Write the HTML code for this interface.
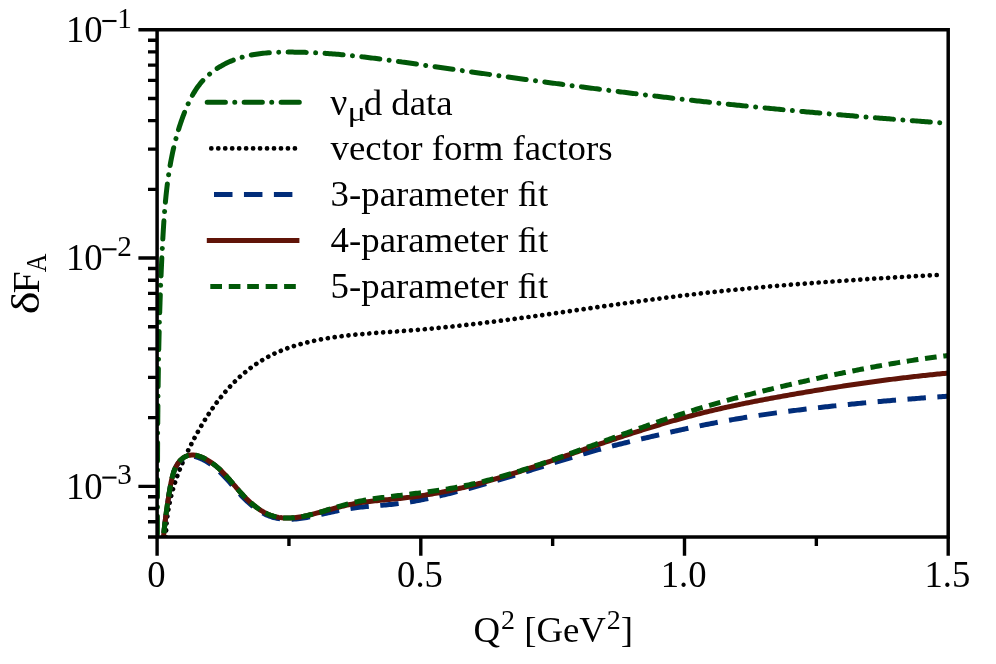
<!DOCTYPE html>
<html><head><meta charset="utf-8"><title>chart</title>
<style>
html,body{margin:0;padding:0;background:#fff;}
svg{display:block;}
text{font-family:"Liberation Serif",serif;fill:#000;}
</style></head><body>
<svg width="996" height="664" viewBox="0 0 996 664">
<rect x="0" y="0" width="996" height="664" fill="#ffffff"/>
<defs><clipPath id="ax"><rect x="157.10" y="29.75" width="791.10" height="507.25"/></clipPath></defs>

<g opacity="0.999">
<g clip-path="url(#ax)">
<path d="M157.37 539.04 L157.38 537.29 L157.38 535.53 L157.38 533.77 L157.39 532.01 L157.39 530.26 L157.39 528.50 L157.40 526.74 L157.40 524.99 L157.40 523.23 L157.40 521.48 L157.41 519.72 L157.41 517.97 L157.41 516.21 L157.42 514.46 L157.42 512.70 L157.42 510.95 L157.42 509.19 L157.43 507.44 L157.43 505.69 L157.43 503.93 L157.44 502.18 L157.44 500.43 L157.44 498.67 L157.45 496.92 L157.45 495.17 L157.45 493.41 L157.46 491.66 L157.46 489.91 L157.46 488.16 L157.47 486.41 L157.47 484.66 L157.48 482.90 L157.48 481.15 L157.48 479.40 L157.49 477.65 L157.49 475.90 L157.50 474.15 L157.50 472.40 L157.51 470.65 L157.51 468.90 L157.52 467.15 L157.52 465.40 L157.53 463.65 L157.54 461.90 L157.54 460.15 L157.55 458.40 L157.56 456.65 L157.56 454.90 L157.57 453.16 L157.58 451.41 L157.59 449.66 L157.59 447.91 L157.60 446.16 L157.61 444.41 L157.62 442.66 L157.63 440.92 L157.64 439.17 L157.65 437.42 L157.66 435.67 L157.67 433.93 L157.68 432.18 L157.69 430.43 L157.71 428.68 L157.72 426.94 L157.73 425.19 L157.74 423.44 L157.76 421.69 L157.77 419.95 L157.78 418.20 L157.80 416.45 L157.81 414.71 L157.83 412.96 L157.85 411.21 L157.86 409.47 L157.88 407.72 L157.90 405.97 L157.91 404.23 L157.93 402.48 L157.95 400.73 L157.97 398.99 L157.99 397.24 L158.01 395.50 L158.03 393.75 L158.05 392.00 L158.07 390.26 L158.10 388.51 L158.12 386.77 L158.14 385.02 L158.17 383.27 L158.19 381.53 L158.22 379.78 L158.24 378.04 L158.27 376.29 L158.29 374.54 L158.32 372.80 L158.35 371.05 L158.38 369.31 L158.41 367.56 L158.44 365.81 L158.47 364.07 L158.50 362.32 L158.53 360.58 L158.56 358.83 L158.60 357.08 L158.63 355.34 L158.67 353.59 L158.70 351.85 L158.74 350.10 L158.77 348.35 L158.81 346.61 L158.85 344.86 L158.89 343.12 L158.93 341.37 L158.97 339.62 L159.01 337.88 L159.05 336.13 L159.09 334.38 L159.14 332.64 L159.18 330.89 L159.23 329.14 L159.27 327.40 L159.32 325.65 L159.37 323.90 L159.42 322.16 L159.47 320.41 L159.52 318.66 L159.57 316.92 L159.62 315.17 L159.67 313.42 L159.72 311.68 L159.78 309.93 L159.83 308.18 L159.89 306.43 L159.95 304.69 L160.01 302.94 L160.06 301.19 L160.12 299.44 L160.19 297.69 L160.25 295.95 L160.31 294.20 L160.37 292.45 L160.44 290.70 L160.50 288.95 L160.57 287.20 L160.64 285.45 L160.71 283.71 L160.78 281.96 L160.85 280.21 L160.92 278.46 L160.99 276.71 L161.06 274.96 L161.14 273.21 L161.22 271.46 L161.29 269.71 L161.37 267.96 L161.45 266.21 L161.53 264.46 L161.61 262.71 L161.69 260.96 L161.78 259.21 L161.86 257.45 L161.95 255.70 L162.03 253.95 L162.12 252.20 L162.21 250.45 L162.30 248.70 L162.39 246.94 L162.48 245.19 L162.58 243.44 L162.67 241.69 L162.77 239.93 L162.86 238.18 L162.96 236.43 L163.06 234.67 L163.16 232.92 L163.27 231.17 L163.37 229.41 L163.48 227.66 L163.59 225.91 L163.70 224.15 L163.82 222.40 L163.93 220.65 L164.06 218.90 L164.18 217.14 L164.31 215.39 L164.44 213.64 L164.57 211.89 L164.71 210.14 L164.85 208.39 L165.00 206.64 L165.15 204.90 L165.30 203.15 L165.46 201.40 L165.63 199.66 L165.80 197.91 L165.97 196.17 L166.15 194.43 L166.34 192.68 L166.53 190.94 L166.73 189.20 L166.93 187.47 L167.14 185.73 L167.35 183.99 L167.58 182.26 L167.80 180.53 L168.04 178.80 L168.28 177.07 L168.53 175.34 L168.79 173.61 L169.05 171.89 L169.33 170.16 L169.61 168.44 L169.89 166.72 L170.19 165.00 L170.49 163.28 L170.81 161.57 L171.13 159.86 L171.46 158.15 L171.80 156.44 L172.15 154.73 L172.50 153.03 L172.87 151.33 L173.25 149.63 L173.64 147.93 L174.03 146.23 L174.44 144.54 L174.86 142.85 L175.28 141.16 L175.72 139.48 L176.17 137.80 L176.63 136.12 L177.10 134.44 L177.59 132.76 L178.08 131.09 L178.59 129.42 L179.10 127.76 L179.63 126.09 L180.18 124.43 L180.73 122.78 L181.30 121.12 L181.88 119.47 L182.47 117.82 L183.07 116.18 L183.69 114.54 L184.32 112.90 L184.97 111.26 L185.63 109.63 L186.30 108.01 L187.00 106.39 L187.71 104.78 L188.44 103.18 L189.18 101.60 L189.95 100.02 L190.74 98.45 L191.56 96.90 L192.40 95.37 L193.26 93.85 L194.15 92.35 L195.06 90.87 L196.01 89.41 L196.98 87.97 L197.98 86.55 L199.02 85.16 L200.08 83.79 L201.18 82.44 L202.31 81.13 L203.48 79.84 L204.69 78.58 L205.92 77.35 L207.19 76.15 L208.50 74.98 L209.83 73.85 L211.19 72.74 L212.58 71.66 L214.00 70.61 L215.44 69.59 L216.90 68.60 L218.39 67.65 L219.89 66.72 L221.42 65.83 L222.97 64.97 L224.53 64.14 L226.11 63.34 L227.70 62.57 L229.31 61.84 L230.92 61.14 L232.55 60.47 L234.19 59.83 L235.83 59.23 L237.48 58.66 L239.14 58.12 L240.81 57.60 L242.49 57.12 L244.17 56.67 L245.85 56.24 L247.55 55.84 L249.25 55.47 L250.95 55.12 L252.66 54.80 L254.38 54.49 L256.10 54.22 L257.82 53.96 L259.55 53.72 L261.28 53.51 L263.02 53.31 L264.76 53.13 L266.50 52.97 L268.24 52.83 L269.99 52.70 L271.74 52.59 L273.49 52.49 L275.24 52.41 L277.00 52.33 L278.75 52.27 L280.51 52.22 L282.27 52.18 L284.02 52.15 L285.78 52.13 L287.53 52.12 L289.29 52.11 L291.04 52.11 L292.80 52.11 L294.55 52.13 L296.30 52.15 L298.06 52.17 L299.81 52.20 L301.56 52.24 L303.31 52.29 L305.06 52.34 L306.81 52.40 L308.56 52.46 L310.30 52.53 L312.05 52.60 L313.80 52.69 L315.55 52.77 L317.29 52.86 L319.04 52.96 L320.78 53.06 L322.53 53.17 L324.27 53.28 L326.02 53.40 L327.76 53.52 L329.50 53.65 L331.25 53.78 L332.99 53.92 L334.73 54.06 L336.47 54.21 L338.21 54.36 L339.96 54.51 L341.70 54.67 L343.44 54.83 L345.18 55.00 L346.91 55.17 L348.65 55.34 L350.39 55.52 L352.13 55.70 L353.87 55.89 L355.61 56.07 L357.34 56.27 L359.08 56.46 L360.82 56.66 L362.56 56.86 L364.29 57.06 L366.03 57.27 L367.76 57.48 L369.50 57.69 L371.23 57.91 L372.97 58.12 L374.70 58.34 L376.44 58.56 L378.17 58.79 L379.91 59.01 L381.64 59.24 L383.38 59.47 L385.11 59.70 L386.84 59.94 L388.58 60.17 L390.31 60.41 L392.04 60.65 L393.78 60.88 L395.51 61.12 L397.24 61.37 L398.98 61.61 L400.71 61.85 L402.44 62.10 L404.18 62.34 L405.91 62.59 L407.64 62.83 L409.37 63.08 L411.11 63.33 L412.84 63.57 L414.57 63.82 L416.30 64.07 L418.03 64.32 L419.77 64.56 L421.50 64.81 L423.23 65.06 L424.96 65.31 L426.70 65.55 L428.43 65.80 L430.16 66.05 L431.89 66.30 L433.63 66.54 L435.36 66.79 L437.09 67.04 L438.82 67.28 L440.56 67.53 L442.29 67.78 L444.02 68.02 L445.75 68.27 L447.49 68.51 L449.22 68.76 L450.95 69.01 L452.68 69.25 L454.42 69.50 L456.15 69.74 L457.88 69.99 L459.61 70.23 L461.35 70.48 L463.08 70.72 L464.81 70.97 L466.54 71.21 L468.28 71.46 L470.01 71.70 L471.74 71.94 L473.47 72.19 L475.21 72.43 L476.94 72.68 L478.67 72.92 L480.40 73.16 L482.14 73.40 L483.87 73.65 L485.60 73.89 L487.33 74.13 L489.07 74.37 L490.80 74.62 L492.53 74.86 L494.27 75.10 L496.00 75.34 L497.73 75.58 L499.46 75.82 L501.20 76.06 L502.93 76.30 L504.66 76.54 L506.40 76.78 L508.13 77.02 L509.86 77.26 L511.60 77.50 L513.33 77.74 L515.06 77.98 L516.79 78.22 L518.53 78.46 L520.26 78.69 L521.99 78.93 L523.73 79.17 L525.46 79.41 L527.19 79.64 L528.93 79.88 L530.66 80.12 L532.39 80.35 L534.13 80.59 L535.86 80.82 L537.59 81.06 L539.33 81.29 L541.06 81.53 L542.80 81.76 L544.53 81.99 L546.26 82.23 L548.00 82.46 L549.73 82.69 L551.46 82.93 L553.20 83.16 L554.93 83.39 L556.67 83.62 L558.40 83.85 L560.13 84.08 L561.87 84.31 L563.60 84.54 L565.34 84.77 L567.07 85.00 L568.80 85.23 L570.54 85.46 L572.27 85.69 L574.01 85.91 L575.74 86.14 L577.48 86.37 L579.21 86.60 L580.94 86.82 L582.68 87.05 L584.41 87.27 L586.15 87.50 L587.88 87.72 L589.62 87.95 L591.35 88.17 L593.09 88.39 L594.82 88.62 L596.56 88.84 L598.29 89.06 L600.03 89.28 L601.76 89.50 L603.50 89.73 L605.23 89.95 L606.97 90.17 L608.70 90.38 L610.44 90.60 L612.17 90.82 L613.91 91.04 L615.65 91.26 L617.38 91.48 L619.12 91.69 L620.85 91.91 L622.59 92.12 L624.32 92.34 L626.06 92.55 L627.80 92.77 L629.53 92.98 L631.27 93.20 L633.00 93.41 L634.74 93.62 L636.48 93.83 L638.21 94.04 L639.95 94.25 L641.69 94.46 L643.42 94.67 L645.16 94.88 L646.90 95.09 L648.63 95.30 L650.37 95.51 L652.11 95.71 L653.84 95.92 L655.58 96.13 L657.32 96.33 L659.05 96.54 L660.79 96.74 L662.53 96.95 L664.27 97.15 L666.00 97.35 L667.74 97.55 L669.48 97.76 L671.22 97.96 L672.95 98.16 L674.69 98.36 L676.43 98.56 L678.17 98.75 L679.91 98.95 L681.64 99.15 L683.38 99.35 L685.12 99.54 L686.86 99.74 L688.60 99.93 L690.34 100.13 L692.07 100.32 L693.81 100.51 L695.55 100.71 L697.29 100.90 L699.03 101.09 L700.77 101.28 L702.51 101.47 L704.25 101.66 L705.99 101.85 L707.72 102.04 L709.46 102.23 L711.20 102.41 L712.94 102.60 L714.68 102.79 L716.42 102.97 L718.16 103.16 L719.90 103.34 L721.64 103.53 L723.38 103.71 L725.12 103.89 L726.86 104.08 L728.60 104.26 L730.34 104.44 L732.08 104.62 L733.82 104.80 L735.56 104.98 L737.30 105.16 L739.04 105.34 L740.78 105.51 L742.52 105.69 L744.26 105.87 L746.00 106.05 L747.74 106.22 L749.48 106.40 L751.23 106.57 L752.97 106.75 L754.71 106.92 L756.45 107.09 L758.19 107.26 L759.93 107.44 L761.67 107.61 L763.41 107.78 L765.15 107.95 L766.89 108.12 L768.64 108.29 L770.38 108.46 L772.12 108.63 L773.86 108.79 L775.60 108.96 L777.34 109.13 L779.09 109.30 L780.83 109.46 L782.57 109.63 L784.31 109.79 L786.05 109.96 L787.79 110.12 L789.54 110.28 L791.28 110.45 L793.02 110.61 L794.76 110.77 L796.50 110.93 L798.25 111.09 L799.99 111.25 L801.73 111.41 L803.47 111.57 L805.22 111.73 L806.96 111.89 L808.70 112.05 L810.44 112.21 L812.19 112.36 L813.93 112.52 L815.67 112.68 L817.41 112.83 L819.16 112.99 L820.90 113.14 L822.64 113.30 L824.38 113.45 L826.13 113.60 L827.87 113.76 L829.61 113.91 L831.36 114.06 L833.10 114.21 L834.84 114.37 L836.58 114.52 L838.33 114.67 L840.07 114.82 L841.81 114.97 L843.56 115.12 L845.30 115.26 L847.04 115.41 L848.79 115.56 L850.53 115.71 L852.27 115.85 L854.02 116.00 L855.76 116.15 L857.50 116.29 L859.25 116.44 L860.99 116.58 L862.73 116.73 L864.48 116.87 L866.22 117.01 L867.97 117.16 L869.71 117.30 L871.45 117.44 L873.20 117.58 L874.94 117.72 L876.68 117.87 L878.43 118.01 L880.17 118.15 L881.91 118.29 L883.66 118.43 L885.40 118.56 L887.15 118.70 L888.89 118.84 L890.63 118.98 L892.38 119.12 L894.12 119.25 L895.87 119.39 L897.61 119.53 L899.35 119.66 L901.10 119.80 L902.84 119.93 L904.59 120.07 L906.33 120.20 L908.07 120.34 L909.82 120.47 L911.56 120.60 L913.31 120.74 L915.05 120.87 L916.79 121.00 L918.54 121.13 L920.28 121.27 L922.03 121.40 L923.77 121.53 L925.52 121.66 L927.26 121.79 L929.00 121.92 L930.75 122.05 L932.49 122.18 L934.24 122.30 L935.98 122.43 L937.73 122.56 L939.47 122.69 L941.21 122.82 L942.96 122.94 L944.70 123.07 L946.45 123.20 L948.19 123.32" fill="none" stroke="#005808" stroke-width="5.00" stroke-linecap="round" stroke-linejoin="round" stroke-dasharray="18.20 9.37 0.01 9.37" stroke-dashoffset="32.45"/>
<path d="M165.95 539.16 L165.95 537.33 L165.97 535.50 L166.01 533.67 L166.07 531.85 L166.15 530.03 L166.25 528.21 L166.37 526.40 L166.50 524.60 L166.66 522.79 L166.83 521.00 L167.02 519.20 L167.23 517.41 L167.46 515.63 L167.70 513.85 L167.96 512.08 L168.24 510.31 L168.54 508.54 L168.85 506.78 L169.19 505.02 L169.53 503.27 L169.90 501.53 L170.28 499.79 L170.68 498.05 L171.09 496.32 L171.52 494.60 L171.97 492.88 L172.43 491.16 L172.91 489.45 L173.40 487.75 L173.91 486.05 L174.44 484.36 L174.97 482.67 L175.53 480.99 L176.10 479.31 L176.68 477.64 L177.27 475.97 L177.88 474.31 L178.51 472.65 L179.14 471.00 L179.79 469.35 L180.45 467.70 L181.12 466.06 L181.81 464.42 L182.50 462.78 L183.21 461.15 L183.93 459.52 L184.66 457.90 L185.40 456.27 L186.15 454.66 L186.91 453.04 L187.68 451.43 L188.46 449.81 L189.25 448.21 L190.05 446.60 L190.86 445.00 L191.67 443.39 L192.49 441.79 L193.33 440.20 L194.17 438.60 L195.02 437.01 L195.88 435.42 L196.74 433.84 L197.62 432.26 L198.51 430.68 L199.40 429.11 L200.30 427.54 L201.22 425.98 L202.14 424.42 L203.07 422.87 L204.02 421.32 L204.97 419.79 L205.93 418.25 L206.90 416.73 L207.89 415.21 L208.88 413.70 L209.88 412.20 L210.90 410.70 L211.92 409.21 L212.95 407.73 L214.00 406.26 L215.06 404.80 L216.12 403.35 L217.20 401.91 L218.29 400.48 L219.39 399.06 L220.50 397.65 L221.63 396.25 L222.76 394.86 L223.91 393.49 L225.07 392.12 L226.24 390.77 L227.42 389.43 L228.61 388.10 L229.82 386.78 L231.04 385.48 L232.27 384.19 L233.51 382.92 L234.77 381.66 L236.04 380.41 L237.32 379.18 L238.61 377.97 L239.92 376.76 L241.24 375.58 L242.58 374.41 L243.92 373.26 L245.28 372.12 L246.66 371.00 L248.04 369.90 L249.44 368.81 L250.86 367.74 L252.29 366.69 L253.73 365.66 L255.18 364.64 L256.66 363.65 L258.14 362.67 L259.64 361.71 L261.15 360.78 L262.68 359.86 L264.21 358.96 L265.76 358.08 L267.33 357.22 L268.90 356.38 L270.49 355.56 L272.08 354.75 L273.69 353.97 L275.31 353.21 L276.94 352.47 L278.57 351.75 L280.22 351.05 L281.88 350.37 L283.54 349.71 L285.22 349.07 L286.90 348.45 L288.59 347.84 L290.28 347.26 L291.99 346.69 L293.69 346.14 L295.41 345.61 L297.13 345.09 L298.85 344.59 L300.58 344.11 L302.31 343.64 L304.05 343.18 L305.78 342.74 L307.52 342.31 L309.27 341.89 L311.01 341.49 L312.76 341.10 L314.51 340.72 L316.26 340.35 L318.01 340.00 L319.76 339.65 L321.52 339.32 L323.28 339.00 L325.04 338.69 L326.80 338.39 L328.56 338.09 L330.32 337.81 L332.09 337.54 L333.86 337.28 L335.63 337.02 L337.40 336.77 L339.17 336.54 L340.94 336.31 L342.71 336.08 L344.49 335.87 L346.26 335.66 L348.04 335.46 L349.82 335.26 L351.60 335.07 L353.38 334.89 L355.16 334.71 L356.94 334.54 L358.73 334.37 L360.51 334.21 L362.29 334.05 L364.08 333.90 L365.86 333.75 L367.65 333.60 L369.44 333.46 L371.22 333.32 L373.01 333.18 L374.80 333.05 L376.59 332.91 L378.38 332.78 L380.17 332.66 L381.96 332.53 L383.75 332.40 L385.54 332.28 L387.33 332.15 L389.12 332.03 L390.91 331.90 L392.70 331.78 L394.49 331.65 L396.28 331.52 L398.07 331.40 L399.86 331.27 L401.64 331.13 L403.43 331.00 L405.22 330.87 L407.01 330.73 L408.80 330.59 L410.59 330.44 L412.37 330.30 L414.16 330.15 L415.95 330.00 L417.73 329.85 L419.52 329.70 L421.30 329.54 L423.09 329.38 L424.87 329.22 L426.66 329.06 L428.44 328.89 L430.23 328.73 L432.01 328.56 L433.79 328.39 L435.58 328.21 L437.36 328.04 L439.14 327.86 L440.92 327.68 L442.71 327.50 L444.49 327.32 L446.27 327.14 L448.05 326.95 L449.83 326.76 L451.61 326.57 L453.39 326.38 L455.17 326.19 L456.95 325.99 L458.73 325.80 L460.51 325.60 L462.29 325.40 L464.07 325.20 L465.85 324.99 L467.63 324.79 L469.40 324.58 L471.18 324.38 L472.96 324.17 L474.74 323.96 L476.52 323.74 L478.29 323.53 L480.07 323.31 L481.85 323.10 L483.62 322.88 L485.40 322.66 L487.17 322.44 L488.95 322.22 L490.73 322.00 L492.50 321.77 L494.28 321.55 L496.05 321.32 L497.83 321.09 L499.60 320.86 L501.38 320.63 L503.15 320.40 L504.93 320.17 L506.70 319.94 L508.47 319.70 L510.25 319.47 L512.02 319.23 L513.80 318.99 L515.57 318.76 L517.34 318.52 L519.12 318.28 L520.89 318.04 L522.66 317.80 L524.44 317.55 L526.21 317.31 L527.98 317.07 L529.75 316.82 L531.53 316.58 L533.30 316.33 L535.07 316.08 L536.84 315.84 L538.61 315.59 L540.39 315.34 L542.16 315.09 L543.93 314.84 L545.70 314.59 L547.47 314.34 L549.25 314.09 L551.02 313.84 L552.79 313.59 L554.56 313.33 L556.33 313.08 L558.10 312.83 L559.87 312.58 L561.64 312.32 L563.42 312.07 L565.19 311.81 L566.96 311.56 L568.73 311.30 L570.50 311.05 L572.27 310.79 L574.04 310.54 L575.81 310.28 L577.58 310.03 L579.36 309.77 L581.13 309.52 L582.90 309.26 L584.67 309.01 L586.44 308.75 L588.21 308.50 L589.98 308.24 L591.75 307.98 L593.52 307.73 L595.29 307.47 L597.06 307.22 L598.84 306.96 L600.61 306.71 L602.38 306.46 L604.15 306.20 L605.92 305.95 L607.69 305.70 L609.46 305.44 L611.23 305.19 L613.01 304.94 L614.78 304.69 L616.55 304.43 L618.32 304.18 L620.09 303.93 L621.86 303.68 L623.64 303.43 L625.41 303.19 L627.18 302.94 L628.95 302.69 L630.72 302.44 L632.50 302.20 L634.27 301.95 L636.04 301.70 L637.81 301.46 L639.59 301.22 L641.36 300.97 L643.13 300.73 L644.90 300.49 L646.68 300.25 L648.45 300.01 L650.22 299.77 L652.00 299.53 L653.77 299.30 L655.55 299.06 L657.32 298.83 L659.09 298.59 L660.87 298.36 L662.64 298.13 L664.42 297.90 L666.19 297.67 L667.97 297.44 L669.74 297.21 L671.52 296.99 L673.29 296.76 L675.07 296.54 L676.84 296.32 L678.62 296.09 L680.39 295.87 L682.17 295.66 L683.95 295.44 L685.72 295.22 L687.50 295.01 L689.28 294.79 L691.06 294.58 L692.83 294.37 L694.61 294.16 L696.39 293.96 L698.17 293.75 L699.94 293.54 L701.72 293.34 L703.50 293.14 L705.28 292.94 L707.06 292.74 L708.84 292.54 L710.62 292.34 L712.40 292.15 L714.18 291.95 L715.96 291.76 L717.74 291.57 L719.52 291.38 L721.30 291.19 L723.08 291.00 L724.86 290.81 L726.64 290.63 L728.42 290.44 L730.20 290.26 L731.98 290.08 L733.76 289.90 L735.55 289.72 L737.33 289.54 L739.11 289.36 L740.89 289.18 L742.67 289.01 L744.46 288.84 L746.24 288.66 L748.02 288.49 L749.80 288.32 L751.59 288.15 L753.37 287.98 L755.15 287.82 L756.94 287.65 L758.72 287.49 L760.50 287.32 L762.29 287.16 L764.07 287.00 L765.85 286.84 L767.64 286.68 L769.42 286.52 L771.21 286.36 L772.99 286.20 L774.77 286.05 L776.56 285.89 L778.34 285.74 L780.13 285.59 L781.91 285.43 L783.70 285.28 L785.48 285.13 L787.27 284.98 L789.05 284.84 L790.84 284.69 L792.62 284.54 L794.41 284.40 L796.19 284.25 L797.98 284.11 L799.76 283.97 L801.55 283.83 L803.33 283.69 L805.12 283.55 L806.91 283.41 L808.69 283.27 L810.48 283.13 L812.26 282.99 L814.05 282.86 L815.83 282.72 L817.62 282.59 L819.41 282.46 L821.19 282.32 L822.98 282.19 L824.76 282.06 L826.55 281.93 L828.34 281.80 L830.12 281.67 L831.91 281.54 L833.70 281.42 L835.48 281.29 L837.27 281.16 L839.05 281.04 L840.84 280.91 L842.63 280.79 L844.41 280.67 L846.20 280.54 L847.99 280.42 L849.77 280.30 L851.56 280.18 L853.35 280.06 L855.13 279.94 L856.92 279.82 L858.71 279.70 L860.49 279.59 L862.28 279.47 L864.06 279.35 L865.85 279.24 L867.64 279.12 L869.42 279.01 L871.21 278.89 L873.00 278.78 L874.78 278.67 L876.57 278.56 L878.35 278.44 L880.14 278.33 L881.93 278.22 L883.71 278.11 L885.50 278.00 L887.28 277.89 L889.07 277.78 L890.86 277.67 L892.64 277.57 L894.43 277.46 L896.21 277.35 L898.00 277.25 L899.79 277.14 L901.57 277.03 L903.36 276.93 L905.14 276.82 L906.93 276.72 L908.71 276.61 L910.50 276.51 L912.28 276.41 L914.07 276.30 L915.85 276.20 L917.64 276.10 L919.42 275.99 L921.21 275.89 L922.99 275.79 L924.78 275.69 L926.56 275.59 L928.35 275.49 L930.13 275.39 L931.92 275.29 L933.70 275.19 L935.48 275.09 L937.27 274.99" fill="none" stroke="#000" stroke-width="4.70" stroke-linecap="round" stroke-linejoin="round" stroke-dasharray="0.01 6.95" stroke-dashoffset="5.06"/>
<path d="M163.30 539.08 L163.47 537.18 L163.65 535.31 L163.83 533.45 L164.01 531.62 L164.20 529.80 L164.39 528.00 L164.59 526.21 L164.79 524.44 L164.99 522.68 L165.20 520.93 L165.41 519.19 L165.62 517.46 L165.84 515.74 L166.07 514.02 L166.30 512.30 L166.54 510.59 L166.78 508.87 L167.02 507.16 L167.27 505.44 L167.53 503.72 L167.79 502.00 L168.06 500.27 L168.33 498.53 L168.61 496.78 L168.90 495.02 L169.19 493.25 L169.49 491.46 L169.79 489.66 L170.10 487.84 L170.42 486.00 L170.75 484.16 L171.10 482.30 L171.48 480.45 L171.89 478.61 L172.33 476.77 L172.81 474.96 L173.35 473.17 L173.94 471.42 L174.59 469.70 L175.31 468.03 L176.10 466.64 L176.97 465.12 L177.92 463.68 L178.96 462.32 L180.08 461.06 L181.29 459.92 L182.58 458.91 L183.95 458.05 L185.40 457.35 L186.92 456.80 L188.49 456.43 L190.10 456.22 L191.76 456.19 L193.44 456.33 L195.15 456.63 L196.86 457.07 L198.59 457.64 L200.32 458.32 L202.03 459.11 L203.74 459.98 L205.42 460.92 L207.07 461.91 L208.68 462.96 L210.25 464.03 L211.77 465.13 L213.25 466.25 L214.69 467.39 L216.09 468.56 L217.46 469.74 L218.80 470.94 L220.10 472.16 L221.38 473.40 L222.64 474.66 L223.87 475.92 L225.08 477.20 L226.28 478.50 L227.46 479.80 L228.63 481.11 L229.79 482.43 L230.95 483.75 L232.10 485.08 L233.25 486.41 L234.40 487.75 L235.55 489.08 L236.71 490.41 L237.88 491.74 L239.06 493.06 L240.25 494.37 L241.46 495.68 L242.69 496.98 L243.94 498.26 L245.21 499.53 L246.51 500.79 L247.84 502.02 L249.19 503.24 L250.56 504.43 L251.96 505.60 L253.37 506.73 L254.82 507.83 L256.28 508.90 L257.76 509.93 L259.26 510.91 L260.78 511.86 L262.32 512.75 L263.88 513.60 L265.46 514.39 L267.05 515.13 L268.66 515.81 L270.28 516.43 L271.92 516.99 L273.57 517.48 L275.24 517.91 L276.92 518.28 L278.61 518.59 L280.31 518.84 L282.02 519.04 L283.74 519.18 L285.48 519.28 L287.21 519.33 L288.96 519.33 L290.72 519.30 L292.48 519.22 L294.25 519.11 L296.02 518.96 L297.79 518.77 L299.57 518.56 L301.36 518.32 L303.14 518.05 L304.93 517.76 L306.72 517.45 L308.51 517.12 L310.29 516.77 L312.08 516.40 L313.87 516.03 L315.65 515.64 L317.43 515.25 L319.20 514.85 L320.97 514.44 L322.74 514.04 L324.50 513.63 L326.25 513.23 L327.99 512.84 L329.73 512.45 L331.47 512.06 L333.19 511.69 L334.92 511.32 L336.64 510.96 L338.35 510.61 L340.07 510.27 L341.78 509.94 L343.50 509.62 L345.21 509.31 L346.93 509.01 L348.64 508.72 L350.36 508.45 L352.09 508.19 L353.82 507.94 L355.55 507.71 L357.29 507.49 L359.04 507.28 L360.79 507.09 L362.55 506.90 L364.31 506.73 L366.08 506.56 L367.85 506.40 L369.62 506.24 L371.40 506.09 L373.18 505.95 L374.96 505.80 L376.75 505.66 L378.54 505.52 L380.33 505.37 L382.12 505.23 L383.92 505.08 L385.71 504.92 L387.51 504.76 L389.31 504.59 L391.10 504.42 L392.90 504.23 L394.69 504.04 L396.49 503.83 L398.28 503.62 L400.08 503.39 L401.87 503.15 L403.66 502.90 L405.45 502.64 L407.23 502.37 L409.02 502.09 L410.80 501.80 L412.58 501.49 L414.36 501.18 L416.14 500.86 L417.92 500.53 L419.70 500.19 L421.47 499.84 L423.24 499.49 L425.01 499.13 L426.78 498.76 L428.55 498.38 L430.32 498.00 L432.08 497.61 L433.84 497.22 L435.61 496.82 L437.37 496.41 L439.12 496.00 L440.88 495.59 L442.64 495.17 L444.39 494.75 L446.14 494.32 L447.90 493.89 L449.65 493.46 L451.39 493.02 L453.14 492.59 L454.89 492.14 L456.63 491.70 L458.37 491.25 L460.12 490.80 L461.86 490.35 L463.59 489.89 L465.33 489.43 L467.07 488.96 L468.80 488.50 L470.53 488.03 L472.27 487.56 L474.00 487.08 L475.73 486.61 L477.46 486.13 L479.18 485.64 L480.91 485.16 L482.63 484.67 L484.36 484.18 L486.08 483.69 L487.80 483.19 L489.52 482.70 L491.24 482.20 L492.96 481.70 L494.68 481.19 L496.39 480.69 L498.11 480.18 L499.82 479.67 L501.54 479.16 L503.25 478.65 L504.96 478.13 L506.67 477.62 L508.38 477.10 L510.09 476.58 L511.80 476.06 L513.51 475.54 L515.21 475.01 L516.92 474.49 L518.62 473.96 L520.33 473.44 L522.03 472.91 L523.73 472.38 L525.44 471.85 L527.14 471.32 L528.84 470.78 L530.54 470.25 L532.24 469.72 L533.94 469.18 L535.64 468.65 L537.34 468.11 L539.04 467.58 L540.73 467.04 L542.43 466.50 L544.13 465.97 L545.82 465.43 L547.52 464.89 L549.22 464.36 L550.91 463.82 L552.61 463.29 L554.30 462.76 L556.00 462.22 L557.69 461.69 L559.38 461.16 L561.08 460.64 L562.77 460.11 L564.46 459.58 L566.16 459.06 L567.85 458.54 L569.54 458.02 L571.24 457.51 L572.93 456.99 L574.62 456.48 L576.31 455.97 L578.01 455.47 L579.70 454.96 L581.39 454.46 L583.08 453.97 L584.78 453.48 L586.47 452.99 L588.16 452.50 L589.86 452.02 L591.55 451.55 L593.24 451.07 L594.94 450.60 L596.63 450.14 L598.32 449.68 L600.02 449.22 L601.71 448.76 L603.41 448.31 L605.10 447.87 L606.80 447.42 L608.49 446.98 L610.19 446.54 L611.89 446.11 L613.58 445.68 L615.28 445.25 L616.98 444.82 L618.67 444.40 L620.37 443.97 L622.07 443.56 L623.77 443.14 L625.47 442.72 L627.17 442.31 L628.87 441.90 L630.57 441.49 L632.27 441.08 L633.98 440.67 L635.68 440.27 L637.38 439.86 L639.09 439.46 L640.79 439.06 L642.50 438.66 L644.20 438.25 L645.91 437.86 L647.62 437.46 L649.32 437.06 L651.03 436.66 L652.74 436.26 L654.45 435.86 L656.16 435.47 L657.88 435.07 L659.59 434.68 L661.30 434.28 L663.02 433.89 L664.73 433.49 L666.45 433.10 L668.17 432.71 L669.88 432.32 L671.60 431.93 L673.32 431.54 L675.04 431.16 L676.76 430.77 L678.49 430.39 L680.21 430.01 L681.94 429.63 L683.66 429.25 L685.39 428.88 L687.12 428.50 L688.85 428.13 L690.58 427.76 L692.31 427.39 L694.04 427.03 L695.77 426.67 L697.51 426.31 L699.25 425.95 L700.98 425.59 L702.72 425.24 L704.46 424.89 L706.20 424.54 L707.94 424.20 L709.69 423.86 L711.43 423.52 L713.18 423.18 L714.92 422.85 L716.67 422.52 L718.41 422.19 L720.16 421.86 L721.91 421.54 L723.66 421.22 L725.41 420.90 L727.16 420.59 L728.91 420.27 L730.67 419.96 L732.42 419.66 L734.17 419.36 L735.92 419.05 L737.68 418.76 L739.43 418.46 L741.19 418.17 L742.94 417.88 L744.69 417.59 L746.45 417.31 L748.20 417.03 L749.96 416.75 L751.71 416.48 L753.47 416.20 L755.22 415.93 L756.98 415.67 L758.73 415.40 L760.49 415.14 L762.25 414.88 L764.00 414.62 L765.76 414.37 L767.52 414.12 L769.27 413.87 L771.03 413.62 L772.79 413.38 L774.55 413.14 L776.30 412.89 L778.06 412.66 L779.82 412.42 L781.58 412.18 L783.34 411.95 L785.10 411.72 L786.86 411.49 L788.62 411.26 L790.38 411.03 L792.15 410.81 L793.91 410.58 L795.67 410.36 L797.43 410.14 L799.20 409.92 L800.96 409.71 L802.72 409.49 L804.49 409.28 L806.25 409.06 L808.01 408.85 L809.78 408.64 L811.54 408.44 L813.31 408.23 L815.08 408.03 L816.84 407.82 L818.61 407.62 L820.38 407.42 L822.14 407.22 L823.91 407.03 L825.68 406.83 L827.45 406.64 L829.21 406.44 L830.98 406.25 L832.75 406.06 L834.52 405.87 L836.29 405.69 L838.06 405.50 L839.83 405.32 L841.60 405.13 L843.37 404.95 L845.14 404.77 L846.91 404.59 L848.68 404.41 L850.45 404.24 L852.23 404.06 L854.00 403.89 L855.77 403.71 L857.54 403.54 L859.32 403.37 L861.09 403.20 L862.86 403.04 L864.64 402.87 L866.41 402.70 L868.18 402.54 L869.96 402.38 L871.73 402.21 L873.51 402.05 L875.28 401.89 L877.06 401.74 L878.83 401.58 L880.61 401.42 L882.38 401.27 L884.16 401.11 L885.94 400.96 L887.71 400.81 L889.49 400.66 L891.27 400.51 L893.04 400.36 L894.82 400.21 L896.60 400.07 L898.38 399.92 L900.15 399.78 L901.93 399.63 L903.71 399.49 L905.49 399.35 L907.27 399.21 L909.05 399.07 L910.83 398.93 L912.60 398.79 L914.38 398.65 L916.16 398.52 L917.94 398.38 L919.72 398.25 L921.50 398.11 L923.28 397.98 L925.06 397.85 L926.84 397.72 L928.62 397.59 L930.40 397.46 L932.18 397.33 L933.97 397.20 L935.75 397.07 L937.53 396.95 L939.31 396.82 L941.09 396.70 L942.87 396.57 L944.65 396.45 L946.43 396.33 L948.22 396.20 L950.00 396.08" fill="none" stroke="#002d7a" stroke-width="5.00" stroke-linecap="butt" stroke-linejoin="round" stroke-dasharray="18.45 11.51" stroke-dashoffset="23.53"/>
<path d="M163.30 539.08 L163.47 537.18 L163.65 535.31 L163.83 533.45 L164.01 531.62 L164.20 529.80 L164.39 528.00 L164.59 526.21 L164.79 524.44 L164.99 522.68 L165.20 520.93 L165.41 519.19 L165.62 517.46 L165.84 515.74 L166.07 514.02 L166.30 512.30 L166.54 510.59 L166.78 508.87 L167.02 507.16 L167.27 505.44 L167.53 503.72 L167.79 502.00 L168.06 500.27 L168.33 498.53 L168.61 496.78 L168.90 495.02 L169.19 493.25 L169.49 491.46 L169.79 489.66 L170.10 487.84 L170.42 486.00 L170.75 484.16 L171.10 482.30 L171.48 480.45 L171.89 478.61 L172.33 476.77 L172.81 474.96 L173.35 473.17 L173.94 471.42 L174.59 469.70 L175.31 468.03 L176.10 466.41 L176.97 464.85 L177.92 463.35 L178.96 461.94 L180.08 460.61 L181.29 459.40 L182.58 458.31 L183.95 457.37 L185.40 456.57 L186.92 455.93 L188.49 455.45 L190.10 455.14 L191.76 455.00 L193.44 455.04 L195.15 455.22 L196.86 455.55 L198.59 456.02 L200.32 456.60 L202.03 457.28 L203.74 458.05 L205.42 458.90 L207.07 459.82 L208.68 460.79 L210.25 461.80 L211.77 462.84 L213.25 463.91 L214.69 465.01 L216.09 466.14 L217.46 467.30 L218.80 468.48 L220.10 469.69 L221.38 470.91 L222.64 472.16 L223.87 473.43 L225.08 474.71 L226.28 476.00 L227.46 477.31 L228.63 478.64 L229.79 479.97 L230.95 481.31 L232.10 482.66 L233.25 484.01 L234.40 485.37 L235.55 486.72 L236.71 488.08 L237.88 489.44 L239.06 490.79 L240.25 492.14 L241.46 493.48 L242.69 494.81 L243.94 496.14 L245.21 497.45 L246.51 498.75 L247.84 500.03 L249.19 501.29 L250.56 502.53 L251.96 503.74 L253.37 504.93 L254.82 506.08 L256.28 507.19 L257.76 508.27 L259.26 509.30 L260.78 510.29 L262.32 511.23 L263.88 512.12 L265.46 512.96 L267.05 513.74 L268.66 514.45 L270.28 515.11 L271.92 515.69 L273.57 516.21 L275.24 516.66 L276.92 517.04 L278.61 517.35 L280.31 517.60 L282.02 517.80 L283.74 517.93 L285.48 518.01 L287.21 518.04 L288.96 518.02 L290.72 517.96 L292.48 517.84 L294.25 517.69 L296.02 517.49 L297.79 517.26 L299.57 517.00 L301.36 516.70 L303.14 516.37 L304.93 516.01 L306.72 515.63 L308.51 515.23 L310.29 514.80 L312.08 514.36 L313.87 513.90 L315.65 513.43 L317.43 512.95 L319.20 512.47 L320.97 511.98 L322.74 511.48 L324.50 510.99 L326.25 510.49 L327.99 510.00 L329.73 509.52 L331.47 509.05 L333.19 508.58 L334.92 508.12 L336.64 507.66 L338.35 507.22 L340.07 506.78 L341.78 506.36 L343.50 505.95 L345.21 505.55 L346.93 505.16 L348.64 504.79 L350.36 504.42 L352.09 504.08 L353.82 503.75 L355.55 503.43 L357.29 503.13 L359.04 502.85 L360.79 502.58 L362.55 502.32 L364.31 502.08 L366.08 501.85 L367.85 501.62 L369.62 501.41 L371.40 501.21 L373.18 501.01 L374.96 500.83 L376.75 500.64 L378.54 500.47 L380.33 500.29 L382.12 500.13 L383.92 499.96 L385.71 499.79 L387.51 499.63 L389.31 499.46 L391.10 499.30 L392.90 499.13 L394.69 498.96 L396.49 498.78 L398.28 498.60 L400.08 498.42 L401.87 498.22 L403.66 498.02 L405.45 497.82 L407.23 497.60 L409.02 497.39 L410.80 497.16 L412.58 496.93 L414.36 496.69 L416.14 496.44 L417.92 496.19 L419.70 495.93 L421.47 495.67 L423.24 495.40 L425.01 495.12 L426.78 494.84 L428.55 494.55 L430.32 494.25 L432.08 493.95 L433.84 493.64 L435.61 493.32 L437.37 493.00 L439.12 492.68 L440.88 492.34 L442.64 492.00 L444.39 491.66 L446.14 491.31 L447.90 490.95 L449.65 490.58 L451.39 490.21 L453.14 489.84 L454.89 489.46 L456.63 489.07 L458.37 488.68 L460.12 488.28 L461.86 487.87 L463.59 487.46 L465.33 487.04 L467.07 486.62 L468.80 486.19 L470.53 485.76 L472.27 485.32 L474.00 484.88 L475.73 484.43 L477.46 483.98 L479.18 483.52 L480.91 483.05 L482.63 482.59 L484.36 482.11 L486.08 481.64 L487.80 481.15 L489.52 480.67 L491.24 480.18 L492.96 479.68 L494.68 479.18 L496.39 478.68 L498.11 478.17 L499.82 477.66 L501.54 477.15 L503.25 476.63 L504.96 476.10 L506.67 475.58 L508.38 475.05 L510.09 474.52 L511.80 473.98 L513.51 473.44 L515.21 472.90 L516.92 472.36 L518.62 471.81 L520.33 471.26 L522.03 470.71 L523.73 470.15 L525.44 469.59 L527.14 469.03 L528.84 468.47 L530.54 467.91 L532.24 467.34 L533.94 466.77 L535.64 466.20 L537.34 465.62 L539.04 465.05 L540.73 464.47 L542.43 463.90 L544.13 463.32 L545.82 462.74 L547.52 462.15 L549.22 461.57 L550.91 460.99 L552.61 460.40 L554.30 459.81 L556.00 459.23 L557.69 458.64 L559.38 458.05 L561.08 457.46 L562.77 456.87 L564.46 456.28 L566.16 455.69 L567.85 455.10 L569.54 454.51 L571.24 453.92 L572.93 453.33 L574.62 452.74 L576.31 452.15 L578.01 451.56 L579.70 450.97 L581.39 450.38 L583.08 449.79 L584.78 449.20 L586.47 448.62 L588.16 448.03 L589.86 447.45 L591.55 446.86 L593.24 446.28 L594.94 445.70 L596.63 445.11 L598.32 444.53 L600.02 443.96 L601.71 443.38 L603.41 442.80 L605.10 442.23 L606.80 441.65 L608.49 441.08 L610.19 440.51 L611.89 439.94 L613.58 439.37 L615.28 438.80 L616.98 438.24 L618.67 437.67 L620.37 437.11 L622.07 436.55 L623.77 435.99 L625.47 435.44 L627.17 434.88 L628.87 434.33 L630.57 433.78 L632.27 433.23 L633.98 432.68 L635.68 432.13 L637.38 431.59 L639.09 431.05 L640.79 430.51 L642.50 429.97 L644.20 429.44 L645.91 428.91 L647.62 428.38 L649.32 427.85 L651.03 427.32 L652.74 426.80 L654.45 426.28 L656.16 425.76 L657.88 425.24 L659.59 424.73 L661.30 424.22 L663.02 423.71 L664.73 423.21 L666.45 422.71 L668.17 422.21 L669.88 421.71 L671.60 421.21 L673.32 420.72 L675.04 420.24 L676.76 419.75 L678.49 419.27 L680.21 418.79 L681.94 418.31 L683.66 417.84 L685.39 417.37 L687.12 416.91 L688.85 416.44 L690.58 415.98 L692.31 415.53 L694.04 415.07 L695.77 414.62 L697.51 414.18 L699.25 413.74 L700.98 413.30 L702.72 412.86 L704.46 412.43 L706.20 412.00 L707.94 411.58 L709.69 411.15 L711.43 410.74 L713.18 410.32 L714.92 409.91 L716.67 409.50 L718.41 409.10 L720.16 408.70 L721.91 408.30 L723.66 407.90 L725.41 407.51 L727.16 407.12 L728.91 406.74 L730.67 406.36 L732.42 405.98 L734.17 405.60 L735.92 405.23 L737.68 404.85 L739.43 404.49 L741.19 404.12 L742.94 403.76 L744.69 403.40 L746.45 403.05 L748.20 402.69 L749.96 402.34 L751.71 401.99 L753.47 401.65 L755.22 401.30 L756.98 400.96 L758.73 400.62 L760.49 400.29 L762.25 399.95 L764.00 399.62 L765.76 399.29 L767.52 398.96 L769.27 398.63 L771.03 398.31 L772.79 397.98 L774.55 397.66 L776.30 397.34 L778.06 397.02 L779.82 396.70 L781.58 396.38 L783.34 396.07 L785.10 395.75 L786.86 395.44 L788.62 395.12 L790.38 394.81 L792.15 394.50 L793.91 394.19 L795.67 393.89 L797.43 393.58 L799.20 393.28 L800.96 392.97 L802.72 392.67 L804.49 392.37 L806.25 392.07 L808.01 391.77 L809.78 391.47 L811.54 391.17 L813.31 390.88 L815.08 390.59 L816.84 390.29 L818.61 390.00 L820.38 389.71 L822.14 389.43 L823.91 389.14 L825.68 388.85 L827.45 388.57 L829.21 388.29 L830.98 388.01 L832.75 387.73 L834.52 387.45 L836.29 387.17 L838.06 386.90 L839.83 386.62 L841.60 386.35 L843.37 386.08 L845.14 385.81 L846.91 385.54 L848.68 385.28 L850.45 385.01 L852.23 384.75 L854.00 384.49 L855.77 384.23 L857.54 383.97 L859.32 383.71 L861.09 383.46 L862.86 383.20 L864.64 382.95 L866.41 382.70 L868.18 382.45 L869.96 382.20 L871.73 381.96 L873.51 381.71 L875.28 381.47 L877.06 381.23 L878.83 380.99 L880.61 380.76 L882.38 380.52 L884.16 380.29 L885.94 380.05 L887.71 379.82 L889.49 379.59 L891.27 379.37 L893.04 379.14 L894.82 378.92 L896.60 378.70 L898.38 378.48 L900.15 378.26 L901.93 378.04 L903.71 377.83 L905.49 377.61 L907.27 377.40 L909.05 377.19 L910.83 376.99 L912.60 376.78 L914.38 376.58 L916.16 376.38 L917.94 376.18 L919.72 375.98 L921.50 375.78 L923.28 375.59 L925.06 375.40 L926.84 375.21 L928.62 375.02 L930.40 374.83 L932.18 374.65 L933.97 374.46 L935.75 374.28 L937.53 374.10 L939.31 373.93 L941.09 373.75 L942.87 373.58 L944.65 373.41 L946.43 373.24 L948.22 373.08 L950.00 372.91" fill="none" stroke="#601408" stroke-width="5.00" stroke-linecap="butt" stroke-linejoin="round"/>
<path d="M163.30 539.08 L163.47 537.18 L163.65 535.31 L163.83 533.45 L164.01 531.62 L164.20 529.80 L164.39 528.00 L164.59 526.21 L164.79 524.44 L164.99 522.68 L165.20 520.93 L165.41 519.19 L165.62 517.46 L165.84 515.74 L166.07 514.02 L166.30 512.30 L166.54 510.59 L166.78 508.87 L167.02 507.16 L167.27 505.44 L167.53 503.72 L167.79 502.00 L168.06 500.27 L168.33 498.53 L168.61 496.78 L168.90 495.02 L169.19 493.25 L169.49 491.46 L169.79 489.66 L170.10 487.84 L170.42 486.00 L170.75 484.16 L171.10 482.30 L171.48 480.45 L171.89 478.61 L172.33 476.77 L172.81 474.96 L173.35 473.17 L173.94 471.42 L174.59 469.70 L175.31 468.03 L176.10 466.41 L176.97 464.85 L177.92 463.35 L178.96 461.94 L180.08 460.61 L181.29 459.40 L182.58 458.31 L183.95 457.37 L185.40 456.57 L186.92 455.93 L188.49 455.45 L190.10 455.14 L191.76 455.00 L193.44 455.04 L195.15 455.22 L196.86 455.55 L198.59 456.02 L200.32 456.60 L202.03 457.28 L203.74 458.05 L205.42 458.90 L207.07 459.82 L208.68 460.79 L210.25 461.80 L211.77 462.84 L213.25 463.91 L214.69 465.01 L216.09 466.14 L217.46 467.30 L218.80 468.48 L220.10 469.69 L221.38 470.91 L222.64 472.16 L223.87 473.43 L225.08 474.71 L226.28 476.00 L227.46 477.31 L228.63 478.64 L229.79 479.97 L230.95 481.31 L232.10 482.66 L233.25 484.01 L234.40 485.37 L235.55 486.72 L236.71 488.08 L237.88 489.44 L239.06 490.79 L240.25 492.14 L241.46 493.48 L242.69 494.81 L243.94 496.14 L245.21 497.45 L246.51 498.75 L247.84 500.03 L249.19 501.29 L250.56 502.53 L251.96 503.74 L253.37 504.93 L254.82 506.08 L256.28 507.19 L257.76 508.27 L259.26 509.30 L260.78 510.29 L262.32 511.23 L263.88 512.12 L265.46 512.96 L267.05 513.74 L268.66 514.45 L270.28 515.11 L271.92 515.69 L273.57 516.21 L275.24 516.66 L276.92 517.04 L278.61 517.35 L280.31 517.60 L282.02 517.80 L283.74 517.93 L285.48 518.01 L287.21 518.04 L288.96 518.02 L290.72 517.96 L292.48 517.84 L294.25 517.69 L296.02 517.49 L297.79 517.26 L299.57 517.00 L301.36 516.70 L303.14 516.37 L304.93 516.01 L306.72 515.63 L308.51 515.23 L310.29 514.80 L312.08 514.36 L313.87 513.90 L315.65 513.43 L317.43 512.95 L319.20 512.47 L320.97 511.98 L322.74 511.48 L324.50 510.99 L326.25 510.24 L327.99 509.70 L329.73 509.16 L331.47 508.63 L333.19 508.10 L334.92 507.57 L336.64 507.05 L338.35 506.55 L340.07 506.04 L341.78 505.55 L343.50 505.07 L345.21 504.60 L346.93 504.14 L348.64 503.69 L350.36 503.26 L352.09 502.83 L353.82 502.43 L355.55 502.03 L357.29 501.66 L359.04 501.30 L360.79 500.95 L362.55 500.61 L364.31 500.29 L366.08 499.98 L367.85 499.68 L369.62 499.39 L371.40 499.11 L373.18 498.84 L374.96 498.57 L376.75 498.32 L378.54 498.07 L380.33 497.83 L382.12 497.59 L383.92 497.36 L385.71 497.13 L387.51 496.90 L389.31 496.68 L391.10 496.46 L392.90 496.25 L394.69 496.03 L396.49 495.81 L398.28 495.60 L400.08 495.38 L401.87 495.16 L403.66 494.93 L405.45 494.71 L407.23 494.49 L409.02 494.26 L410.80 494.03 L412.58 493.81 L414.36 493.58 L416.14 493.35 L417.92 493.12 L419.70 492.90 L421.47 492.67 L423.24 492.44 L425.01 492.20 L426.78 491.97 L428.55 491.73 L430.32 491.49 L432.08 491.25 L433.84 491.00 L435.61 490.75 L437.37 490.50 L439.12 490.24 L440.88 489.97 L442.64 489.70 L444.39 489.43 L446.14 489.14 L447.90 488.86 L449.65 488.56 L451.39 488.26 L453.14 487.95 L454.89 487.63 L456.63 487.31 L458.37 486.97 L460.12 486.63 L461.86 486.29 L463.59 485.93 L465.33 485.57 L467.07 485.20 L468.80 484.83 L470.53 484.44 L472.27 484.05 L474.00 483.66 L475.73 483.25 L477.46 482.84 L479.18 482.43 L480.91 482.01 L482.63 481.58 L484.36 481.14 L486.08 480.70 L487.80 480.26 L489.52 479.80 L491.24 479.34 L492.96 478.88 L494.68 478.41 L496.39 477.94 L498.11 477.46 L499.82 476.97 L501.54 476.48 L503.25 475.98 L504.96 475.48 L506.67 474.98 L508.38 474.47 L510.09 473.95 L511.80 473.43 L513.51 472.91 L515.21 472.38 L516.92 471.85 L518.62 471.31 L520.33 470.77 L522.03 470.23 L523.73 469.68 L525.44 469.13 L527.14 468.57 L528.84 468.01 L530.54 467.45 L532.24 466.89 L533.94 466.32 L535.64 465.74 L537.34 465.17 L539.04 464.59 L540.73 464.01 L542.43 463.42 L544.13 462.84 L545.82 462.25 L547.52 461.66 L549.22 461.06 L550.91 460.47 L552.61 459.87 L554.30 459.27 L556.00 458.67 L557.69 458.06 L559.38 457.45 L561.08 456.85 L562.77 456.24 L564.46 455.63 L566.16 455.01 L567.85 454.40 L569.54 453.79 L571.24 453.17 L572.93 452.55 L574.62 451.93 L576.31 451.32 L578.01 450.70 L579.70 450.08 L581.39 449.46 L583.08 448.83 L584.78 448.21 L586.47 447.59 L588.16 446.97 L589.86 446.35 L591.55 445.73 L593.24 445.10 L594.94 444.48 L596.63 443.86 L598.32 443.24 L600.02 442.62 L601.71 442.00 L603.41 441.37 L605.10 440.75 L606.80 440.13 L608.49 439.51 L610.19 438.89 L611.89 438.27 L613.58 437.65 L615.28 437.04 L616.98 436.42 L618.67 435.80 L620.37 435.19 L622.07 434.57 L623.77 433.96 L625.47 433.34 L627.17 432.73 L628.87 432.12 L630.57 431.51 L632.27 430.90 L633.98 430.29 L635.68 429.68 L637.38 429.07 L639.09 428.47 L640.79 427.86 L642.50 427.26 L644.20 426.66 L645.91 426.06 L647.62 425.46 L649.32 424.86 L651.03 424.27 L652.74 423.67 L654.45 423.08 L656.16 422.49 L657.88 421.90 L659.59 421.32 L661.30 420.73 L663.02 420.15 L664.73 419.57 L666.45 418.99 L668.17 418.41 L669.88 417.84 L671.60 417.26 L673.32 416.69 L675.04 416.13 L676.76 415.56 L678.49 415.00 L680.21 414.44 L681.94 413.88 L683.66 413.32 L685.39 412.77 L687.12 412.22 L688.85 411.67 L690.58 411.12 L692.31 410.58 L694.04 410.04 L695.77 409.51 L697.51 408.97 L699.25 408.44 L700.98 407.91 L702.72 407.39 L704.46 406.87 L706.20 406.35 L707.94 405.83 L709.69 405.32 L711.43 404.81 L713.18 404.30 L714.92 403.80 L716.67 403.30 L718.41 402.80 L720.16 402.30 L721.91 401.81 L723.66 401.32 L725.41 400.83 L727.16 400.35 L728.91 399.87 L730.67 399.39 L732.42 398.91 L734.17 398.44 L735.92 397.97 L737.68 397.50 L739.43 397.04 L741.19 396.57 L742.94 396.11 L744.69 395.66 L746.45 395.20 L748.20 394.75 L749.96 394.30 L751.71 393.85 L753.47 393.41 L755.22 392.96 L756.98 392.52 L758.73 392.08 L760.49 391.65 L762.25 391.21 L764.00 390.78 L765.76 390.35 L767.52 389.92 L769.27 389.49 L771.03 389.07 L772.79 388.64 L774.55 388.22 L776.30 387.80 L778.06 387.38 L779.82 386.96 L781.58 386.54 L783.34 386.12 L785.10 385.71 L786.86 385.30 L788.62 384.88 L790.38 384.47 L792.15 384.06 L793.91 383.65 L795.67 383.24 L797.43 382.84 L799.20 382.43 L800.96 382.03 L802.72 381.63 L804.49 381.23 L806.25 380.83 L808.01 380.43 L809.78 380.03 L811.54 379.64 L813.31 379.25 L815.08 378.85 L816.84 378.46 L818.61 378.08 L820.38 377.69 L822.14 377.30 L823.91 376.92 L825.68 376.54 L827.45 376.16 L829.21 375.78 L830.98 375.40 L832.75 375.03 L834.52 374.66 L836.29 374.29 L838.06 373.92 L839.83 373.55 L841.60 373.18 L843.37 372.82 L845.14 372.46 L846.91 372.10 L848.68 371.74 L850.45 371.38 L852.23 371.03 L854.00 370.68 L855.77 370.33 L857.54 369.98 L859.32 369.64 L861.09 369.29 L862.86 368.95 L864.64 368.61 L866.41 368.27 L868.18 367.94 L869.96 367.61 L871.73 367.28 L873.51 366.95 L875.28 366.62 L877.06 366.30 L878.83 365.98 L880.61 365.66 L882.38 365.34 L884.16 365.03 L885.94 364.72 L887.71 364.41 L889.49 364.10 L891.27 363.80 L893.04 363.50 L894.82 363.20 L896.60 362.90 L898.38 362.61 L900.15 362.31 L901.93 362.03 L903.71 361.74 L905.49 361.46 L907.27 361.17 L909.05 360.90 L910.83 360.62 L912.60 360.35 L914.38 360.08 L916.16 359.81 L917.94 359.55 L919.72 359.28 L921.50 359.02 L923.28 358.77 L925.06 358.52 L926.84 358.27 L928.62 358.02 L930.40 357.77 L932.18 357.53 L933.97 357.29 L935.75 357.06 L937.53 356.83 L939.31 356.60 L941.09 356.37 L942.87 356.15 L944.65 355.93 L946.43 355.71 L948.22 355.50 L950.00 355.29" fill="none" stroke="#005808" stroke-width="5.00" stroke-linecap="butt" stroke-linejoin="round" stroke-dasharray="11.70 6.73" stroke-dashoffset="12.63"/>
</g>
<path d="M157.10 537.00 v18.70 M420.80 537.00 v18.70 M684.50 537.00 v18.70 M948.20 537.00 v18.70 M288.95 537.00 v9.10 M552.65 537.00 v9.10 M816.35 537.00 v9.10 M157.10 29.75 h-18.70 M157.10 258.05 h-18.70 M157.10 486.35 h-18.70 M157.10 189.33 h-9.10 M157.10 149.12 h-9.10 M157.10 120.60 h-9.10 M157.10 98.48 h-9.10 M157.10 80.40 h-9.10 M157.10 65.11 h-9.10 M157.10 51.87 h-9.10 M157.10 40.20 h-9.10 M157.10 417.63 h-9.10 M157.10 377.42 h-9.10 M157.10 348.90 h-9.10 M157.10 326.78 h-9.10 M157.10 308.70 h-9.10 M157.10 293.42 h-9.10 M157.10 280.18 h-9.10 M157.10 268.50 h-9.10 M157.10 537.00 h-9.10 M157.10 521.72 h-9.10 M157.10 508.48 h-9.10 M157.10 496.80 h-9.10" stroke="#000" stroke-width="3.4" fill="none"/>
<rect x="157.10" y="29.75" width="791.10" height="507.25" fill="none" stroke="#000" stroke-width="3.50"/>
<g transform="translate(65.9 41.90) scale(0.945 1)"><text font-size="38.8">10</text></g>
<rect x="102.3" y="19.95" width="14.2" height="2.1" fill="#000"/>
<text x="117.3" y="27.80" font-size="29.2">1</text>
<g transform="translate(65.9 270.20) scale(0.945 1)"><text font-size="38.8">10</text></g>
<rect x="102.3" y="248.25" width="14.2" height="2.1" fill="#000"/>
<text x="117.3" y="256.10" font-size="29.2">2</text>
<g transform="translate(65.9 498.50) scale(0.945 1)"><text font-size="38.8">10</text></g>
<rect x="102.3" y="476.55" width="14.2" height="2.1" fill="#000"/>
<text x="117.3" y="484.40" font-size="29.2">3</text>
<g transform="translate(156.30 587.3) scale(0.945 1)"><text font-size="38.8" text-anchor="middle">0</text></g>
<g transform="translate(420.00 587.3) scale(0.945 1)"><text font-size="38.8" text-anchor="middle">0.5</text></g>
<g transform="translate(683.70 587.3) scale(0.945 1)"><text font-size="38.8" text-anchor="middle">1.0</text></g>
<g transform="translate(947.40 587.3) scale(0.945 1)"><text font-size="38.8" text-anchor="middle">1.5</text></g>
<text x="473.6" y="641.9" font-size="36.8">Q<tspan dy="-13.3" dx="0.8" font-size="28.0">2</tspan><tspan dy="13.3" font-size="36.8"> [GeV</tspan><tspan dy="-13.3" dx="0.8" font-size="28.0">2</tspan><tspan dy="13.3" font-size="36.8">]</tspan></text>
<g transform="translate(38.8 313.6) rotate(-90)"><text transform="translate(-0.75 0) scale(1.19 1)" font-size="40.8">δ</text><text transform="translate(20.0 0) scale(1.05 1)" font-size="38.2">F</text><text transform="translate(41.3 7.3) scale(0.9 1)" font-size="28.8">A</text></g>
<path d="M207.20 102.20 H299.70" stroke="#005808" stroke-width="5.00" stroke-linecap="round" stroke-dasharray="18.20 9.37 0.01 9.37" fill="none"/>
<path d="M211.30 148.40 H295.00" stroke="#000" stroke-width="4.8" stroke-linecap="round" stroke-dasharray="0.01 6.957" fill="none"/>
<path d="M214.0 194.45 H292.5" stroke="#002d7a" stroke-width="5.00" stroke-dasharray="18.5 11.45" fill="none"/>
<path d="M206.80 240.40 H299.40" stroke="#601408" stroke-width="5.00" fill="none"/>
<path d="M210.3 286.60 H295.8" stroke="#005808" stroke-width="5.00" stroke-dasharray="11.7 6.75" fill="none"/>
<text x="330.3" y="115.30" font-size="37.9">ν</text>
<g transform="translate(347.6 121.00) scale(1.24 1)"><text font-size="28.0">μ</text></g>
<text x="363.7" y="114.60" font-size="36.8">d data</text>
<text x="330.60" y="160.10" font-size="36.8">vector form factors</text>
<text x="330.60" y="206.15" font-size="36.8">3-parameter ﬁt</text>
<text x="330.60" y="252.30" font-size="36.8">4-parameter ﬁt</text>
<text x="330.60" y="298.30" font-size="36.8">5-parameter ﬁt</text>
</g>
</svg></body></html>
